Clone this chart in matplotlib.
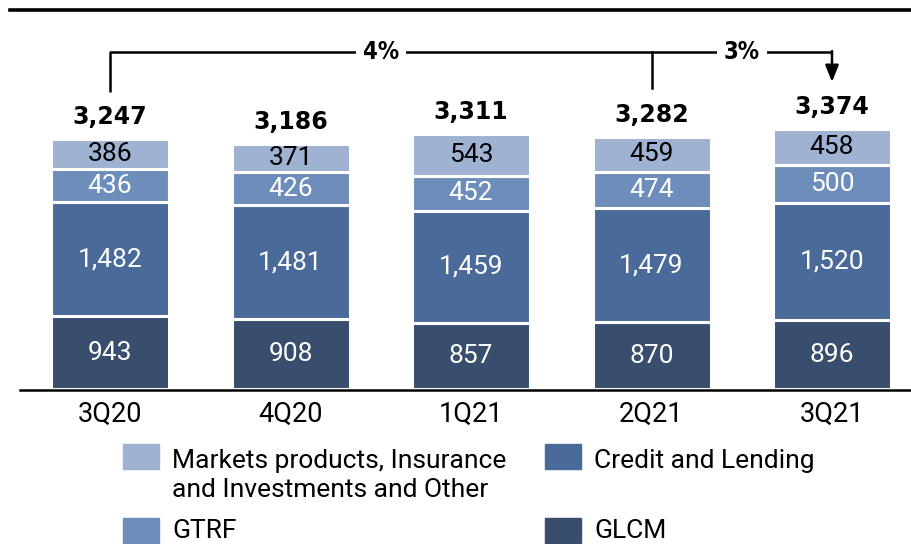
import matplotlib
matplotlib.use("Agg")
import matplotlib.pyplot as plt
from matplotlib.patches import Rectangle
from matplotlib.lines import Line2D
import numpy as np

quarters = ["3Q20", "4Q20", "1Q21", "2Q21", "3Q21"]
glcm = [943, 908, 857, 870, 896]
credit = [1482, 1481, 1459, 1479, 1520]
gtrf = [436, 426, 452, 474, 500]
markets = [386, 371, 543, 459, 458]
totals = [3247, 3186, 3311, 3282, 3374]
growth_labels = ["4%", "3%"]

legend_labels = ["Markets products, Insurance\nand Investments and Other", "Credit and Lending", "GTRF", "GLCM"]

c_glcm = "#394d6d"
c_credit = "#4a6a9a"
c_gtrf = "#6d8dba"
c_markets = "#9fb2d1"

FAM = ["DejaVu Sans"]
REG = ["Roboto", "DejaVu Sans"]

W, H = 912, 544
fig = plt.figure(figsize=(W / 100, H / 100), dpi=100)

base_px = 389
ax = fig.add_axes([0, (H - base_px) / H, 1, base_px / H])
upp = 13.0  # units per pixel
ax.set_ylim(0, base_px * upp)
sp = 180.5
ax.set_xlim(-110 / sp, (W - 110) / sp)
ax.axis("off")

x = np.arange(len(quarters))
bw = 118 / sp
series = [(glcm, c_glcm, "white"), (credit, c_credit, "white"),
          (gtrf, c_gtrf, "white"), (markets, c_markets, "black")]
bottom = np.zeros(len(quarters))
for vals, col, tcol in series:
    vals = np.array(vals, dtype=float)
    ax.bar(x, vals, bw, bottom=bottom, color=col, edgecolor="white", linewidth=2.2)
    for xi, b, v in zip(x, bottom, vals):
        ax.text(xi, b + v / 2, f"{int(v):,}", ha="center", va="center",
                color=tcol, fontsize=19, family=REG)
    bottom += vals

for xi, t, b in zip(x, totals, bottom):
    ax.text(xi, b + 10 * upp, f"{t:,}", ha="center", va="bottom",
            fontsize=17, fontweight="bold", family=FAM)

for xi, q in zip(x, quarters):
    ax.text(xi, -25 * upp, q, ha="center", va="center", fontsize=19.5,
            family=REG, clip_on=False)

# baseline
fig.add_artist(Line2D([20 / W, 1], [(H - 389.5) / H] * 2, color="black", lw=1.8))
# top rule
fig.add_artist(Line2D([10 / W, 1], [(H - 10) / H] * 2, color="black", lw=2.6))

def py(p):
    return (base_px - p) * upp

yb = py(52)
ax.plot([0, 0, 4], [py(92), yb, yb], color="black", lw=1.8, solid_capstyle="butt")
ax.plot([3, 3], [yb, py(88)], color="black", lw=1.8)
ax.annotate("", xy=(4, py(82)), xytext=(4, yb + 0.9 * upp),
            arrowprops=dict(arrowstyle="-|>,head_length=1.0,head_width=0.4",
                            color="black", lw=1.8, shrinkA=0, shrinkB=0))
for xm, lab in zip([1.5, 3.5], growth_labels):
    ax.text(xm, yb, lab, ha="center", va="center", fontsize=17, fontweight="bold",
            family=FAM, fontstretch="condensed",
            bbox=dict(boxstyle="square,pad=0.3", fc="white", ec="none"))

def fx(p):
    return p / W

def fy(p):
    return (H - p) / H

leg = [(123, 444, 449, c_markets, legend_labels[0]),
       (545, 444, 449, c_credit, legend_labels[1]),
       (123, 518, 519, c_gtrf, legend_labels[2]),
       (545, 518, 519, c_glcm, legend_labels[3])]
for lx, ly, ty, col, lab in leg:
    fig.add_artist(Rectangle((fx(lx), fy(ly + 25)), 36 / W, 25 / H,
                             transform=fig.transFigure, color=col))
    fig.text(fx(lx + 49), fy(ty), lab, ha="left", va="top", fontsize=19,
             family=REG, linespacing=1.25)

fig.savefig("out.png", dpi=100)
